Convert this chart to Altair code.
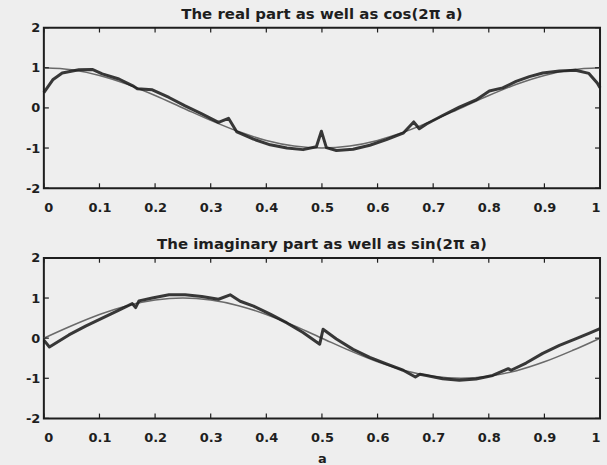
import altair as alt
import pandas as pd

# ---- data ----
x_ticks = [0, 0.1, 0.2, 0.3, 0.4, 0.5, 0.6, 0.7, 0.8, 0.9, 1]
y_ticks = [-2, -1, 0, 1, 2]

exact_a = [0, 0.05, 0.1, 0.15, 0.2, 0.25, 0.3, 0.35, 0.4, 0.45, 0.5,
           0.55, 0.6, 0.65, 0.7, 0.75, 0.8, 0.85, 0.9, 0.95, 1]
cos_vals = [1, 0.95, 0.81, 0.59, 0.31, 0, -0.31, -0.59, -0.81, -0.95, -1,
            -0.95, -0.81, -0.59, -0.31, 0, 0.31, 0.59, 0.81, 0.95, 1]
sin_vals = [0, 0.31, 0.59, 0.81, 0.95, 1, 0.95, 0.81, 0.59, 0.31, 0,
            -0.31, -0.59, -0.81, -0.95, -1, -0.95, -0.81, -0.59, -0.31, 0]

real_a = [0.0, 0.016, 0.033, 0.063, 0.087, 0.105, 0.135, 0.16, 0.168, 0.195,
          0.225, 0.254, 0.284, 0.314, 0.332, 0.347, 0.377, 0.407, 0.437, 0.466,
          0.49, 0.499, 0.508, 0.526, 0.556, 0.586, 0.616, 0.646, 0.665, 0.675,
          0.688, 0.717, 0.747, 0.777, 0.801, 0.825, 0.849, 0.873, 0.897, 0.927,
          0.956, 0.98, 0.995, 1.0]
real_v = [0.38, 0.70, 0.87, 0.95, 0.96, 0.85, 0.72, 0.55, 0.48, 0.45,
          0.26, 0.05, -0.15, -0.36, -0.26, -0.60, -0.78, -0.92, -1.00, -1.04,
          -0.97, -0.58, -0.99, -1.06, -1.03, -0.93, -0.79, -0.63, -0.35, -0.52,
          -0.40, -0.19, 0.02, 0.20, 0.42, 0.50, 0.66, 0.78, 0.87, 0.92,
          0.94, 0.86, 0.62, 0.50]

imag_a = [0.0, 0.01, 0.045, 0.075, 0.105, 0.135, 0.159, 0.165, 0.171, 0.195,
          0.225, 0.254, 0.284, 0.314, 0.335, 0.353, 0.377, 0.407, 0.437, 0.466,
          0.496, 0.502, 0.526, 0.556, 0.586, 0.616, 0.646, 0.668, 0.676, 0.688,
          0.717, 0.747, 0.777, 0.807, 0.835, 0.84, 0.867, 0.897, 0.927, 0.956,
          0.98, 1.0]
imag_v = [-0.05, -0.22, 0.08, 0.30, 0.50, 0.70, 0.86, 0.76, 0.93, 1.00,
          1.08, 1.08, 1.04, 0.97, 1.08, 0.92, 0.80, 0.60, 0.38, 0.14,
          -0.15, 0.22, -0.02, -0.28, -0.48, -0.64, -0.80, -0.97, -0.90, -0.93,
          -1.01, -1.05, -1.02, -0.93, -0.76, -0.80, -0.62, -0.38, -0.18, -0.02,
          0.12, 0.24]

titles = ["The real part as well as cos(2\u03c0 a)",
          "The imaginary part as well as sin(2\u03c0 a)"]

FONT = "DejaVu Sans"
INK = "#1e1e1e"
BG = "#eeeeee"


def tick_frame():
    rows = []
    for t in x_ticks:
        rows.append({"x": t, "x2": t, "y": -2, "y2": -1.88})
        rows.append({"x": t, "x2": t, "y": 2, "y2": 1.88})
    for t in y_ticks:
        rows.append({"x": 0, "x2": 0.009, "y": t, "y2": t})
        rows.append({"x": 1, "x2": 0.991, "y": t, "y2": t})
    return pd.DataFrame(rows)


def panel(title, exact_vals, ap_a, ap_v, xtitle):
    xs = alt.Scale(domain=[0, 1], nice=False, zero=False)
    ys = alt.Scale(domain=[-2, 2], nice=False)
    xaxis_kw = dict(values=x_ticks, format="~g", tickSize=0, labelPadding=13,
                    domain=False, grid=False, labelFont=FONT, labelFontSize=13,
                    labelFontWeight="bold", labelColor=INK)
    if xtitle:
        xaxis_kw.update(title="a", titleFont=FONT, titleFontSize=13,
                        titleFontWeight="bold", titleColor=INK, titlePadding=8)
    else:
        xaxis_kw.update(title="")
    xaxis = alt.Axis(**xaxis_kw)
    yaxis = alt.Axis(values=y_ticks, labelExpr="'' + datum.value", tickSize=0,
                     labelPadding=4, domain=False, grid=False, title="",
                     labelFont=FONT, labelFontSize=13, labelFontWeight="bold",
                     labelColor=INK)

    exact_df = pd.DataFrame({"a": exact_a, "v": exact_vals})
    ap_df = pd.DataFrame({"a": ap_a, "v": ap_v})

    exact = alt.Chart(exact_df).mark_line(
        color="#6a6a6a", strokeWidth=1.6, interpolate="monotone"
    ).encode(x=alt.X("a:Q", scale=xs, axis=xaxis),
             y=alt.Y("v:Q", scale=ys, axis=yaxis))
    approx = alt.Chart(ap_df).mark_line(
        color=INK, strokeWidth=3, opacity=0.88, strokeJoin="round"
    ).encode(x=alt.X("a:Q", scale=xs), y=alt.Y("v:Q", scale=ys))
    ticks = alt.Chart(tick_frame()).mark_rule(color=INK, strokeWidth=1.2).encode(
        x=alt.X("x:Q", scale=xs), x2="x2:Q",
        y=alt.Y("y:Q", scale=ys), y2="y2:Q")

    return alt.layer(exact, approx, ticks).properties(
        width=558, height=161,
        title=alt.TitleParams(title, font=FONT, fontSize=15, fontWeight="bold",
                              color=INK, offset=0, anchor="middle"))


top = panel(titles[0], cos_vals, real_a, real_v, False)
bottom = panel(titles[1], sin_vals, imag_a, imag_v, True)

chart = alt.vconcat(top, bottom, spacing=21).properties(
    padding={"left": 24, "top": 5, "right": 2, "bottom": 0},
    background=BG,
).configure_view(stroke=INK, strokeWidth=2, fill=BG)

chart.save("out.html", embed_options={"renderer": "svg", "actions": False})
